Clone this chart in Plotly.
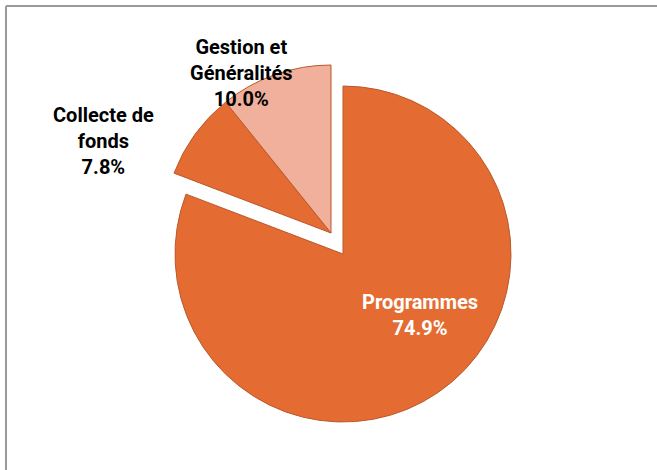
import plotly.graph_objects as go

labels = ["Programmes", "Collecte de<br>fonds", "Gestion et<br>Généralités"]
values = [74.9, 7.8, 10.0]
pct_text = ["74.9%", "7.8%", "10.0%"]
colors = ["#E46C32", "#E46C32", "#F0B09B"]
pulled = [False, True, True]

W, H = 657, 470
R = 168
cx, cy = 343, 254          # centre of main pie (px)
dx, dy = -12, -21          # offset of the exploded group (px)

def dom(cx_, cy_):
    return dict(x=[(cx_ - R) / W, (cx_ + R) / W],
                y=[1 - (cy_ + R) / H, 1 - (cy_ - R) / H])

edge = "#B9592B"
clear = "rgba(0,0,0,0)"

fig = go.Figure()
fig.add_trace(go.Pie(
    labels=labels, values=values, sort=False, direction="clockwise", rotation=0,
    marker=dict(colors=[clear if p else c for c, p in zip(colors, pulled)],
                line=dict(color=edge, width=[0 if p else 1 for p in pulled])),
    textinfo="none", hoverinfo="skip", showlegend=False, domain=dom(cx, cy)))
fig.add_trace(go.Pie(
    labels=labels, values=values, sort=False, direction="clockwise", rotation=0,
    marker=dict(colors=[c if p else clear for c, p in zip(colors, pulled)],
                line=dict(color=edge, width=[1 if p else 0 for p in pulled])),
    textinfo="none", hoverinfo="skip", showlegend=False, domain=dom(cx + dx, cy + dy)))

label_pos = [(420, 315), (103, 141), (241, 73)]
label_col = ["#FFFFFF", "#000000", "#000000"]
for lab, pt, (lx, ly), col in zip(labels, pct_text, label_pos, label_col):
    fig.add_annotation(x=lx / W, y=1 - ly / H, xref="paper", yref="paper",
                       text=f"<b>{lab}<br>{pt}</b>", showarrow=False,
                       font=dict(family="Roboto", size=20, color=col),
                       xanchor="center", yanchor="middle", align="center")

fig.add_shape(type="line", xref="paper", yref="paper", x0=6 / W, x1=6 / W, y0=0, y1=1 - 6 / H,
              line=dict(color="#9A9A9A", width=2))
fig.add_shape(type="line", xref="paper", yref="paper", x0=6 / W, x1=1, y0=1 - 6 / H, y1=1 - 6 / H,
              line=dict(color="#9A9A9A", width=2))

fig.update_layout(width=W, height=H, margin=dict(l=0, r=0, t=0, b=0),
                  paper_bgcolor="white", plot_bgcolor="white")
fig.write_html("out.html", config={"displayModeBar": False},
               post_script="document.body.style.margin='0';document.body.style.overflow='hidden';")
